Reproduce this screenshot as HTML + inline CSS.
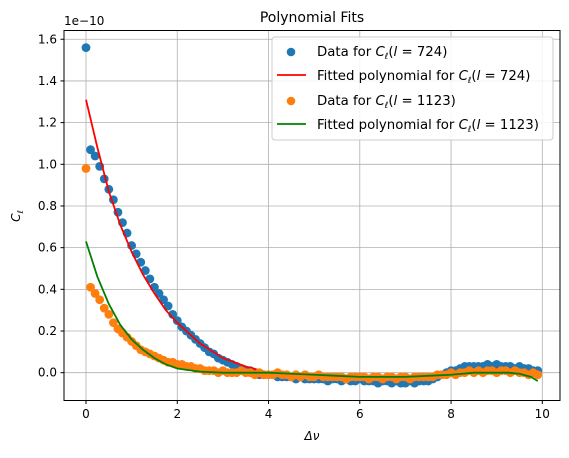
<!DOCTYPE html>
<html><head><meta charset="utf-8"><style>
body{margin:0;background:#fff}
svg text{font-family:"DejaVu Sans","Liberation Sans",sans-serif;fill:#000}
</style></head><body>
<svg id="chart" width="569" height="453" xmlns="http://www.w3.org/2000/svg">
<rect width="569" height="453" fill="#fff"/>
<text x="312" y="22" font-size="14" text-anchor="middle">Polynomial Fits</text>
<g id="grid"></g>
<g id="series"></g>
<rect x="64" y="30.5" width="496" height="370" fill="none" stroke="#000" stroke-width="1"/>
<g id="ticks"></g>
<text x="64" y="25" font-size="12">1e−10</text>
<text x="312" y="440" font-size="12" text-anchor="middle" font-style="italic">Δν</text>
<text transform="translate(20,216) rotate(-90)" font-size="12" text-anchor="middle" font-style="italic">C<tspan font-size="8" dy="3">ℓ</tspan></text>
<g>
<rect x="272" y="37" width="281" height="103" rx="3" fill="#fff" fill-opacity="0.85" stroke="#ccc"/>
<circle cx="291" cy="52" r="4.3" fill="#1f77b4"/>
<text x="317" y="56" font-size="13.3">Data for <tspan font-style="italic">C</tspan><tspan font-size="8.5" dy="3" font-style="italic">ℓ</tspan><tspan dy="-3">(<tspan font-style="italic">l</tspan> = 724)</tspan></text>
<line x1="277" y1="75" x2="306" y2="75" stroke="red" stroke-width="1.8"/>
<text x="317" y="80" font-size="13.3">Fitted polynomial for <tspan font-style="italic">C</tspan><tspan font-size="8.5" dy="3" font-style="italic">ℓ</tspan><tspan dy="-3">(<tspan font-style="italic">l</tspan> = 724)</tspan></text>
<circle cx="291" cy="101" r="4.3" fill="#ff7f0e"/>
<text x="317" y="105" font-size="13.3">Data for <tspan font-style="italic">C</tspan><tspan font-size="8.5" dy="3" font-style="italic">ℓ</tspan><tspan dy="-3">(<tspan font-style="italic">l</tspan> = 1123)</tspan></text>
<line x1="277" y1="124" x2="306" y2="124" stroke="green" stroke-width="1.8"/>
<text x="317" y="129" font-size="13.3">Fitted polynomial for <tspan font-style="italic">C</tspan><tspan font-size="8.5" dy="3" font-style="italic">ℓ</tspan><tspan dy="-3">(<tspan font-style="italic">l</tspan> = 1123)</tspan></text>
</g>
</svg>
<script>
const xTicks=[0,2,4,6,8,10];
const yTicks=[0.0,0.2,0.4,0.6,0.8,1.0,1.2,1.4,1.6];
const blueData=[1.56,1.07,1.04,0.99,0.93,0.88,0.83,0.77,0.72,0.67,0.61,0.57,0.53,0.49,0.45,0.41,0.38,0.35,0.32,0.28,0.25,0.22,0.20,0.18,0.16,0.14,0.12,0.10,0.09,0.07,0.06,0.05,0.04,0.03,0.02,0.01,0.01,0.00,-0.01,-0.01,-0.01,-0.01,-0.02,-0.02,-0.02,-0.02,-0.03,-0.02,-0.03,-0.03,-0.03,-0.03,-0.03,-0.04,-0.03,-0.03,-0.04,-0.03,-0.04,-0.04,-0.03,-0.04,-0.04,-0.04,-0.05,-0.04,-0.04,-0.05,-0.04,-0.05,-0.05,-0.04,-0.05,-0.04,-0.04,-0.04,-0.03,-0.02,-0.01,0.00,0.01,0.01,0.02,0.03,0.03,0.03,0.03,0.03,0.04,0.03,0.04,0.03,0.03,0.03,0.02,0.03,0.02,0.02,0.01,0.01];
const orangeData=[0.98,0.41,0.38,0.35,0.31,0.28,0.24,0.21,0.19,0.17,0.15,0.13,0.11,0.10,0.09,0.08,0.07,0.06,0.05,0.05,0.04,0.04,0.03,0.03,0.02,0.02,0.01,0.01,0.01,0.00,0.01,0.00,0.00,0.00,0.01,0.00,0.00,-0.01,0.00,-0.01,-0.01,-0.01,0.00,-0.01,-0.01,-0.02,-0.01,-0.02,-0.01,-0.02,-0.02,-0.01,-0.02,-0.02,-0.02,-0.02,-0.02,-0.03,-0.02,-0.02,-0.02,-0.02,-0.03,-0.02,-0.02,-0.03,-0.02,-0.02,-0.03,-0.02,-0.02,-0.03,-0.02,-0.02,-0.02,-0.02,-0.02,-0.01,-0.01,-0.01,0.00,-0.01,0.00,0.00,0.01,0.00,0.01,0.00,0.01,0.01,0.00,0.01,0.01,0.00,0.01,0.00,0.00,-0.01,0.00,-0.01];
const fitX=[0,0.25,0.5,0.75,1,1.25,1.5,1.75,2,2.5,3,3.5,4,4.5,5,5.5,6,6.5,7,7.5,8,8.5,9,9.25,9.5,9.75,9.9];
const redFit=[1.31,1.08,0.87,0.71,0.58,0.47,0.38,0.30,0.24,0.14,0.07,0.03,0.00,-0.01,-0.02,-0.03,-0.03,-0.03,-0.02,-0.01,0.00,0.015,0.02,0.02,0.015,0.005,-0.01];
const greenFit=[0.63,0.46,0.33,0.23,0.16,0.11,0.07,0.04,0.02,0.005,0.0,0.0,0.0,-0.005,-0.01,-0.015,-0.02,-0.02,-0.02,-0.015,-0.01,0.0,0.0,0.0,-0.005,-0.02,-0.04];
const X=v=>86+v*45.63, Y=v=>372.7-v*208.4;
const NS='http://www.w3.org/2000/svg';
const grid=document.getElementById('grid'),ticks=document.getElementById('ticks'),ser=document.getElementById('series');
function mk(tag,attrs,parent){const e=document.createElementNS(NS,tag);for(const k in attrs)e.setAttribute(k,attrs[k]);parent.appendChild(e);return e;}
xTicks.forEach(t=>{
 const gl=mk('line',{x1:X(t),x2:X(t),y1:30.5,y2:400.5,stroke:'#b0b0b0','stroke-width':0.8},grid);
 
 
 mk('line',{x1:X(t),x2:X(t),y1:400.5,y2:404,stroke:'#000'},ticks);
 const tx=mk('text',{x:X(t),y:418,'font-size':12,'text-anchor':'middle'},ticks);
 tx.textContent=t;
 
 
});
yTicks.forEach(t=>{
 const gl=mk('line',{x1:64,x2:560,y1:Y(t),y2:Y(t),stroke:'#b0b0b0','stroke-width':0.8},grid);
 
 
 mk('line',{x1:60.5,x2:64,y1:Y(t),y2:Y(t),stroke:'#000'},ticks);
 const tx=mk('text',{x:57,y:Y(t)+4,'font-size':12,'text-anchor':'end'},ticks);
 tx.textContent=t.toFixed(1);
 
 
});
blueData.forEach((v,i)=>{
 const c=mk('circle',{cx:X(i*0.1),cy:Y(v),r:4.4,fill:'#1f77b4'},ser);
 
 
});
const rl=mk('polyline',{points:fitX.map((x,i)=>X(x)+','+Y(redFit[i])).join(' '),fill:'none',stroke:'red','stroke-width':1.8},ser);


orangeData.forEach((v,i)=>{
 const c=mk('circle',{cx:X(i*0.1),cy:Y(v),r:4.4,fill:'#ff7f0e'},ser);
 
 
});
const gline=mk('polyline',{points:fitX.map((x,i)=>X(x)+','+Y(greenFit[i])).join(' '),fill:'none',stroke:'green','stroke-width':1.8},ser);


</script>
</body></html>
